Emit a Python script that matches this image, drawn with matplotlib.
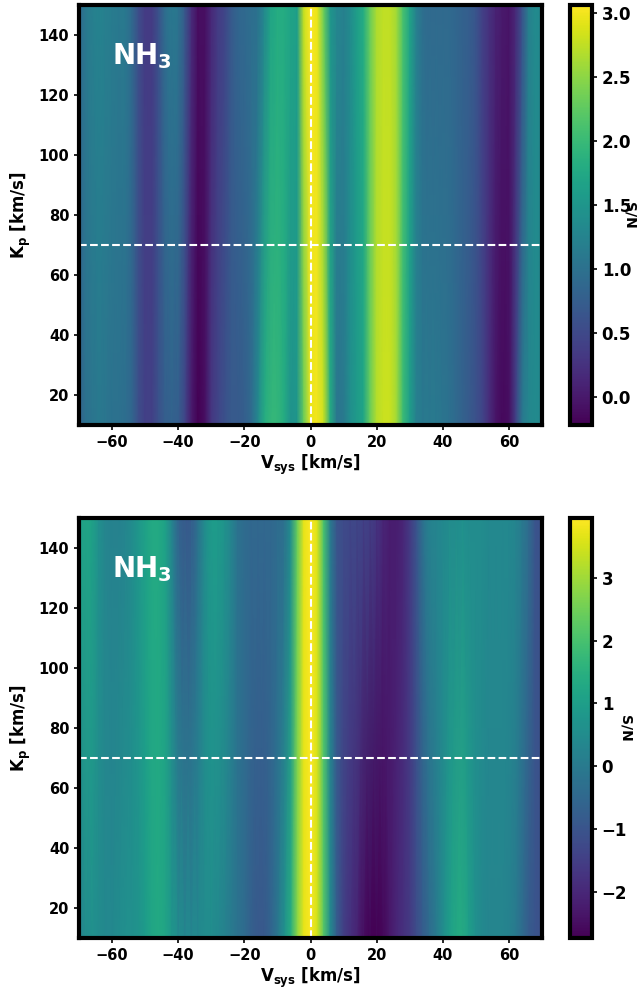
import matplotlib
matplotlib.use("Agg")
import matplotlib.pyplot as plt
import numpy as np

plt.rcParams["font.weight"] = "bold"
plt.rcParams["axes.labelweight"] = "bold"
plt.rcParams["mathtext.default"] = "bf"

VSYS = np.arange(-70, 71, 2)
KP_ROWS = [10, 150]

# top panel: S/N along Vsys at Kp = 10 and Kp = 150
TOP_KP10 = [
    0.8, 1.0, 1.05, 1.1, 1.05, 1.0, 1.0, 0.95, 0.85, 0.55,
    0.4, 0.4, 0.6, 0.75, 0.8, 0.75, 0.45, 0.0, -0.22, -0.1,
    0.3, 0.45, 0.6, 0.7, 0.7, 0.75, 0.9, 1.3, 1.8, 1.95,
    1.95, 1.8, 1.45, 1.5, 2.3, 2.95, 3.0, 2.8, 1.8, 1.05,
    1.1, 1.4, 1.55, 1.7, 2.3, 2.7, 2.8, 2.8, 2.6, 2.0,
    1.6, 1.2, 1.1, 1.1, 1.1, 1.05, 1.0, 0.9, 0.8, 0.7,
    0.6, 0.45, 0.2, -0.05, -0.15, -0.1, 0.4, 1.1, 1.3, 1.35,
    1.3,
]
TOP_KP150 = [
    0.9, 1.1, 1.2, 1.25, 1.2, 1.15, 1.1, 1.1, 0.9, 0.55,
    0.35, 0.35, 0.6, 0.95, 1.1, 1.05, 0.7, 0.2, -0.1, -0.1,
    0.15, 0.35, 0.45, 0.7, 0.85, 0.9, 0.95, 1.0, 1.3, 1.7,
    1.8, 1.8, 1.7, 1.6, 2.8, 3.06, 2.95, 2.3, 1.5, 1.3,
    1.2, 1.35, 1.6, 1.8, 2.3, 2.65, 2.75, 2.75, 2.6, 2.1,
    1.7, 1.2, 0.95, 0.9, 0.9, 0.9, 0.9, 0.85, 0.8, 0.75,
    0.65, 0.4, 0.25, 0.1, 0.0, -0.05, 0.15, 0.6, 1.2, 1.35,
    1.3,
]

# bottom panel: S/N along Vsys at Kp = 10 and Kp = 150
BOT_KP10 = [
    0.3, 0.5, 0.6, 0.5, 0.4, 0.4, 0.5, 0.6, 0.6, 0.7,
    0.9, 1.2, 1.3, 1.2, 0.8, 0.5, 0.4, 0.4, 0.4, 0.5,
    0.5, 0.4, 0.2, 0.0, -0.2, -0.4, -0.7, -0.9, -0.9, -0.6,
    -0.1, 0.6, 1.4, 2.8, 3.7, 3.9, 3.5, 2.2, 0.5, -0.8,
    -1.5, -1.8, -2.1, -2.5, -2.7, -2.73, -2.6, -2.3, -2.0, -1.8,
    -1.6, -1.2, -0.8, -0.4, 0.0, 0.5, 1.0, 1.3, 1.35, 1.0,
    0.6, 0.4, 0.3, 0.3, 0.3, 0.2, 0.0, -0.4, -0.8, -1.0,
    -1.1,
]
BOT_KP150 = [
    1.0, 1.2, 1.1, 0.6, 0.3, 0.2, 0.2, 0.3, 0.5, 0.8,
    1.1, 1.3, 1.3, 1.1, 0.3, -0.6, -0.9, -0.8, -0.2, 0.5,
    0.9, 0.9, 0.7, 0.3, -0.2, -0.4, -0.5, -0.5, -0.5, -0.5,
    -0.4, -0.3, 0.5, 2.4, 3.7, 3.95, 3.6, 2.0, 0.0, -1.0,
    -1.2, -1.3, -1.3, -1.4, -1.5, -1.7, -2.0, -2.2, -2.2, -2.0,
    -1.6, -1.0, -0.2, 0.2, 0.3, 0.4, 0.5, 0.5, 0.6, 0.5,
    0.5, 0.5, 0.4, 0.4, 0.4, 0.4, 0.3, 0.0, -0.4, -1.0,
    -1.1,
]

PANELS = [
    (np.array([TOP_KP10, TOP_KP150]), [0.0, 0.5, 1.0, 1.5, 2.0, 2.5, 3.0]),
    (np.array([BOT_KP10, BOT_KP150]), [-2, -1, 0, 1, 2, 3]),
]

W, H = 639, 991
fig = plt.figure(figsize=(W / 100, H / 100), dpi=100)

ax_boxes = [(79, 5, 542, 425), (79, 518, 542, 938)]
for (z, cticks), (x0, y0, x1, y1) in zip(PANELS, ax_boxes):
    ax = fig.add_axes([x0 / W, 1 - y1 / H, (x1 - x0) / W, (y1 - y0) / H])
    cax = fig.add_axes([570 / W, 1 - y1 / H, 22 / W, (y1 - y0) / H])

    mesh = ax.pcolormesh(VSYS, KP_ROWS, z, cmap="viridis", shading="gouraud")
    ax.set_xlim(-70, 70)
    ax.set_ylim(10, 150)
    ax.axvline(0, color="white", ls="--", lw=1.5)
    ax.axhline(70, color="white", ls="--", lw=1.5)
    ax.text(-60, 133, "NH$_3$", color="white", fontsize=20, va="center", ha="left")

    ax.set_xticks([-60, -40, -20, 0, 20, 40, 60])
    ax.set_yticks([20, 40, 60, 80, 100, 120, 140])
    ax.tick_params(labelsize=10.5, width=1.2)
    ax.set_xlabel("V$_{sys}$ [km/s]", fontsize=12, labelpad=2)
    ax.set_ylabel("K$_p$ [km/s]", fontsize=12)
    for sp in ax.spines.values():
        sp.set_linewidth(3)

    cbar = fig.colorbar(mesh, cax=cax)
    cbar.set_ticks(cticks)
    cbar.ax.tick_params(labelsize=12, width=1.2)
    cbar.outline.set_linewidth(3)
    cbar.set_label("S/N", rotation=270, fontsize=10, labelpad=4)

fig.savefig("out.png", dpi=100)
